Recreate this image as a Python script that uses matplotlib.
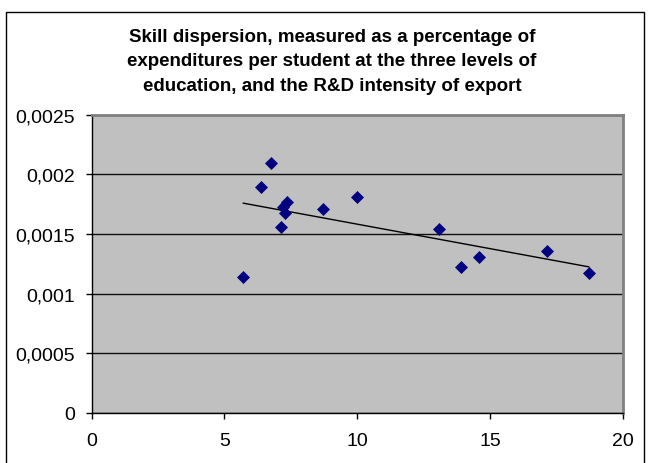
import numpy as np
import matplotlib
matplotlib.use("Agg")
import matplotlib.pyplot as plt
from matplotlib.patches import Rectangle

# R&D intensity of export (x) vs skill dispersion (y)
rd_intensity = [5.71, 6.38, 6.75, 7.13, 7.22, 7.29, 7.34, 8.71, 9.99,
                13.08, 13.91, 14.59, 17.15, 18.72]
skill_disp = [0.001143, 0.001897, 0.002096, 0.001562, 0.001724, 0.001676,
              0.001766, 0.001712, 0.001813, 0.001542, 0.001224, 0.001308,
              0.001360, 0.001171]

x_ticks = [0, 5, 10, 15, 20]
y_ticks = [0, 0.0005, 0.001, 0.0015, 0.002, 0.0025]
y_labels = ["0", "0,0005", "0,001", "0,0015", "0,002", "0,0025"]

title = ("Skill dispersion, measured as a percentage of\n"
         "expenditures per student at the three levels of\n"
         "education, and the R&D intensity of export")


def main():
    plt.rcParams['font.family'] = ['Liberation Sans', 'DejaVu Sans']
    fig = plt.figure(figsize=(6.52, 4.64), dpi=100)
    W, H = 652, 464

    # outer chart border
    fig.patches.append(Rectangle((6 / W, -0.01), 638 / W, 1 - 12.5 / H + 0.01,
                                 transform=fig.transFigure, fill=False,
                                 edgecolor='black', linewidth=1.0))

    ax = fig.add_axes([91.7 / W, (H - 414) / H, 531 / W, (414 - 115.7) / H])
    ax.set_facecolor('#C0C0C0')

    ax.scatter(rd_intensity, skill_disp, marker='D', s=44, color='#000080',
               zorder=3, linewidths=0)

    # linear trend line
    k, b = np.polyfit(rd_intensity, skill_disp, 1)
    xs = np.array([min(rd_intensity), max(rd_intensity)])
    ax.plot(xs, k * xs + b, color='black', linewidth=1.0, zorder=2)

    ax.set_xlim(0, 20)
    ax.set_ylim(0, 0.0025)
    ax.set_xticks(x_ticks)
    ax.set_yticks(y_ticks)
    ax.set_yticklabels(y_labels)
    ax.yaxis.grid(True, color='#101010', linewidth=1.0)
    ax.set_axisbelow(True)

    ax.tick_params(axis='both', direction='out', length=4, width=1,
                   labelsize=14, color='black')
    ax.tick_params(axis='y', pad=8)
    ax.tick_params(axis='x', pad=10)

    for side in ('top', 'right'):
        ax.spines[side].set_color('#808080')
        ax.spines[side].set_linewidth(2.0)
    for side in ('left', 'bottom'):
        ax.spines[side].set_color('black')
        ax.spines[side].set_linewidth(1.0)

    fig.text(332 / W, 1 - 62 / H, title, ha='center', va='center',
             fontsize=13.5, fontweight='bold', linespacing=1.6)

    fig.savefig('out.png', dpi=100)


if __name__ == "__main__":
    main()
